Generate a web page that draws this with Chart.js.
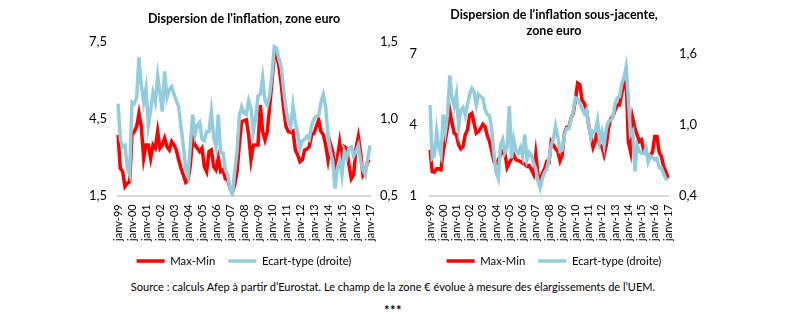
<!DOCTYPE html>
<html lang="fr">
<head>
<meta charset="utf-8">
<title>Dispersion de l'inflation, zone euro</title>
<script src="https://cdn.jsdelivr.net/npm/chart.js@4.4.1/dist/chart.umd.min.js"></script>
<style>
  html, body { margin: 0; padding: 0; background: #fff; }
  body { width: 786px; height: 323px; position: relative; overflow: hidden; font-family: Lato, sans-serif; color: #000; }
  canvas { position: absolute; top: 0; }
  #graphGlobal { left: 88px; }
  #graphSousJacente { left: 405px; }
  .source { position: absolute; left: 0; width: 786px; top: 280px; text-align: center; font-size: 11px; line-height: 14px; white-space: nowrap; }
  .etoiles { position: absolute; left: 0; width: 786px; top: 303px; text-align: center; font-size: 13px; line-height: 14px; font-weight: bold; letter-spacing: 0.5px; }
</style>
</head>
<body>
<canvas id="graphGlobal" width="312" height="280"></canvas>
<canvas id="graphSousJacente" width="298" height="280"></canvas>
<div class="source">Source : calculs Afep à partir d’Eurostat. Le champ de la zone € évolue à mesure des élargissements de l’UEM.</div>
<div class="etoiles">***</div>
<script>
// Observations bimestrielles, janvier 1999 à janvier 2017
const moisAbreges = ['janv', 'mars', 'mai', 'juil', 'sept', 'nov'];
const anneeDebut = 1999, anneeFin = 2017;

// Inflation totale : écart max-min (points de %, axe gauche)
const maxMinGlobal = [
  3.89, 2.59, 2.46, 1.88, 2.01, 2.07, 3.89, 4.02, 4.21, 4.73,
  4.21, 2.98, 3.50, 3.50, 2.98, 3.50, 3.37, 4.02, 3.37, 3.50,
  3.76, 3.43, 3.30, 3.63, 3.50, 3.30, 2.92, 2.59, 2.33, 2.05,
  2.14, 2.72, 3.76, 3.50, 3.37, 3.24, 3.37, 2.66, 2.46, 3.24,
  3.30, 2.66, 2.53, 2.98, 2.46, 2.53, 2.18, 2.14, 1.82, 1.66,
  1.95, 2.44, 3.50, 4.40, 4.44, 4.47, 3.89, 2.92, 3.50, 3.50,
  3.50, 5.05, 4.02, 3.69, 4.02, 4.99, 5.96, 7.06, 6.99, 6.54,
  5.83, 4.92, 4.21, 4.02, 3.99, 4.04, 3.30, 3.11, 2.85, 2.92,
  3.30, 3.34, 3.43, 3.89, 3.95, 4.21, 4.47, 4.02, 3.89, 3.50,
  2.92, 3.56, 3.24, 2.46, 2.98, 3.60, 2.92, 3.43, 3.37, 2.72,
  2.18, 2.33, 3.37, 3.82, 3.18, 2.33, 2.49, 2.88, 2.85
];
// Inflation totale : écart-type (axe droit)
const ecartTypeGlobal = [
  1.10, 0.87, 0.82, 0.83, 0.68, 0.64, 1.11, 1.10, 1.14, 1.40,
  1.22, 1.11, 1.20, 0.96, 1.06, 1.17, 1.11, 1.28, 1.17, 1.05,
  1.31, 1.14, 1.19, 1.21, 1.16, 1.12, 1.08, 0.95, 0.83, 0.68,
  0.63, 0.83, 1.03, 0.90, 0.96, 0.98, 0.87, 0.86, 0.92, 0.92,
  1.05, 0.88, 0.82, 1.03, 0.78, 0.78, 0.67, 0.64, 0.55, 0.51,
  0.66, 0.79, 1.02, 1.08, 1.04, 1.03, 1.12, 1.07, 0.92, 1.01,
  1.15, 1.16, 1.27, 1.12, 1.09, 1.16, 1.29, 1.47, 1.46, 1.39,
  1.33, 1.19, 1.07, 0.98, 0.95, 1.09, 0.98, 0.91, 0.81, 0.86,
  0.87, 0.89, 0.87, 0.96, 1.00, 1.02, 1.02, 1.11, 1.16, 1.08,
  0.90, 0.79, 0.73, 0.55, 0.68, 0.74, 0.64, 0.79, 0.75, 0.81,
  0.82, 0.76, 0.79, 0.83, 0.73, 0.67, 0.64, 0.74, 0.83
];
// Inflation sous-jacente : écart max-min (axe gauche)
const maxMinSousJacente = [
  2.96, 2.05, 2.02, 2.16, 2.16, 2.12, 2.89, 3.38, 3.94, 4.60,
  4.08, 3.66, 3.59, 3.17, 3.00, 3.10, 3.59, 3.80, 4.43, 4.50,
  4.08, 3.66, 3.73, 3.87, 4.04, 3.94, 3.56, 3.31, 2.92, 2.47,
  2.35, 2.54, 2.75, 2.89, 2.82, 2.21, 2.40, 2.58, 2.75, 2.54,
  2.50, 2.47, 2.40, 2.35, 2.26, 2.30, 2.12, 1.93, 2.78, 1.91,
  1.55, 1.98, 2.16, 2.47, 2.44, 3.31, 3.17, 3.00, 2.89, 2.50,
  2.75, 3.66, 3.90, 3.90, 4.29, 4.50, 5.06, 5.77, 5.70, 5.06,
  4.92, 4.64, 4.01, 3.52, 3.06, 3.31, 3.87, 3.17, 3.10, 2.75,
  3.17, 3.87, 4.26, 4.36, 4.64, 4.85, 4.85, 5.34, 5.72, 6.05,
  3.31, 2.89, 4.29, 3.87, 3.59, 3.31, 3.38, 2.92, 2.86, 2.68,
  2.68, 2.89, 3.52, 3.52, 2.86, 2.68, 2.26, 2.05, 1.77
];
// Inflation sous-jacente : écart-type (axe droit)
const ecartTypeSousJacente = [
  1.17, 0.72, 0.74, 0.95, 0.81, 0.75, 1.09, 0.95, 1.10, 1.42,
  1.23, 1.16, 1.26, 0.99, 1.13, 1.15, 1.08, 1.17, 1.26, 1.31,
  1.28, 1.17, 1.26, 1.24, 1.23, 1.13, 1.09, 1.08, 0.97, 0.76,
  0.60, 0.55, 0.83, 0.88, 0.77, 0.81, 1.16, 0.72, 0.88, 0.79,
  0.76, 0.81, 0.74, 0.92, 0.71, 0.77, 0.75, 0.68, 0.63, 0.53,
  0.47, 0.55, 0.60, 0.63, 0.71, 0.83, 0.88, 0.99, 0.90, 0.78,
  0.79, 0.92, 0.97, 0.97, 1.05, 1.12, 1.23, 1.22, 1.18, 1.14,
  1.10, 1.13, 1.00, 0.89, 0.95, 0.95, 1.04, 0.86, 0.94, 0.83,
  0.97, 1.03, 1.04, 1.06, 1.18, 1.23, 1.24, 1.35, 1.40, 1.49,
  1.23, 0.92, 0.95, 0.61, 0.83, 0.78, 0.76, 0.76, 0.81, 0.69,
  0.74, 0.73, 0.71, 0.72, 0.64, 0.64, 0.59, 0.55, 0.54
];

// Graduations des axes
const ticksGaucheGlobal = [1.5, 4.5, 7.5];
const ticksDroitGlobal = [0.5, 1.0, 1.5];
const ticksGaucheSousJacente = [1, 4, 7];
const ticksDroitSousJacente = [0.4, 1.0, 1.6];

// Libellés « mois-aa » de la série bimestrielle
const etiquettesMois = [];
for (let a = anneeDebut; a <= anneeFin; a++) {
  const aa = String(a % 100).padStart(2, '0');
  for (const m of moisAbreges) {
    etiquettesMois.push(m + '-' + aa);
    if (a === anneeFin) break;
  }
}

const ROUGE = '#ff0000';
const BLEU = '#93cddd';
Chart.defaults.font.family = 'Lato, sans-serif';
Chart.defaults.color = '#000';

const virgule = (v, d) => v.toFixed(d).replace('.', ',');

function creerGraphique(idCanvas, cfg) {
  const axeY = (ticks, decimales, largeur, ecart, position) => ({
    type: 'linear',
    position,
    min: ticks[0],
    max: ticks[ticks.length - 1],
    grid: { display: false, drawTicks: false },
    border: { display: false },
    ticks: {
      padding: ecart,
      font: { size: 13 },
      color: '#000',
      callback: v => virgule(v, decimales)
    },
    afterBuildTicks: s => { s.ticks = ticks.map(v => ({ value: v })); },
    afterFit: s => { s.width = largeur; }
  });

  return new Chart(document.getElementById(idCanvas), {
    type: 'line',
    data: {
      labels: etiquettesMois,
      datasets: [
        { label: 'Max-Min', data: cfg.maxMin, yAxisID: 'y', borderColor: ROUGE, backgroundColor: ROUGE,
          borderWidth: 3.5, pointRadius: 0, tension: 0, order: 2 },
        { label: 'Ecart-type (droite)', data: cfg.ecartType, yAxisID: 'y1', borderColor: BLEU, backgroundColor: BLEU,
          borderWidth: 3.5, pointRadius: 0, tension: 0, order: 1 }
      ]
    },
    options: {
      responsive: false,
      animation: false,
      devicePixelRatio: 1,
      layout: { padding: { left: 0, right: 0, top: 0, bottom: 3.4 } },
      plugins: {
        title: {
          display: true,
          text: cfg.titre,
          color: '#000',
          font: { size: 12.5, weight: 'bold', lineHeight: cfg.interligneTitre },
          padding: cfg.margeTitre
        },
        legend: {
          position: 'bottom',
          labels: {
            usePointStyle: true,
            pointStyle: 'line',
            pointStyleWidth: 28,
            padding: 13,
            color: '#000',
            font: { size: 11.3 },
            sort: (a, b) => a.datasetIndex - b.datasetIndex
          }
        },
        tooltip: { enabled: false }
      },
      scales: {
        x: {
          type: 'category',
          grid: { display: false, drawTicks: false },
          border: { display: true, color: '#d9d9d9', width: 2 },
          ticks: {
            autoSkip: false,
            minRotation: 90,
            maxRotation: 90,
            padding: 8,
            color: '#000',
            font: { size: 11 },
            callback: (v, i) => (i % moisAbreges.length === 0 ? etiquettesMois[i] : null)
          },
          afterFit: s => { s.height = 46; }
        },
        y: axeY(cfg.ticksGauche, cfg.decimalesGauche, cfg.largeurGauche, cfg.ecartGauche, 'left'),
        y1: axeY(cfg.ticksDroit, cfg.decimalesDroit, cfg.largeurDroit, cfg.ecartDroit, 'right')
      }
    }
  });
}

creerGraphique('graphGlobal', {
  titre: "Dispersion de l'inflation, zone euro",
  interligneTitre: 1.25,
  margeTitre: { top: 10.7, bottom: 15.7 },
  maxMin: maxMinGlobal,
  ecartType: ecartTypeGlobal,
  ticksGauche: ticksGaucheGlobal, decimalesGauche: 1, largeurGauche: 30, ecartGauche: 11,
  ticksDroit: ticksDroitGlobal, decimalesDroit: 1, largeurDroit: 30, ecartDroit: 10
});

creerGraphique('graphSousJacente', {
  titre: ["Dispersion de l'inflation sous-jacente,", 'zone euro'],
  interligneTitre: 1.24,
  margeTitre: { top: 7.25, bottom: 15.75 },
  maxMin: maxMinSousJacente,
  ecartType: ecartTypeSousJacente,
  ticksGauche: ticksGaucheSousJacente, decimalesGauche: 0, largeurGauche: 25, ecartGauche: 13,
  ticksDroit: ticksDroitSousJacente, decimalesDroit: 1, largeurDroit: 35, ecartDroit: 11
});
</script>
</body>
</html>
